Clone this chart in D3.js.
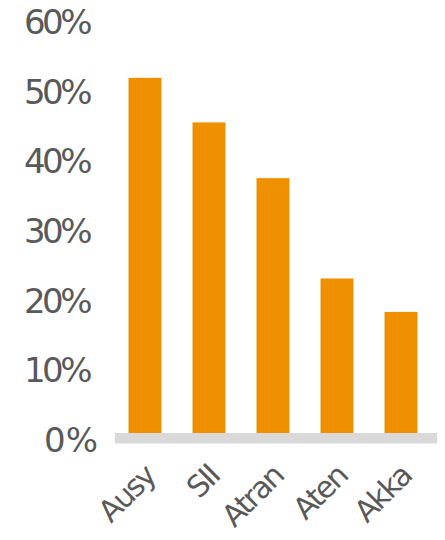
<!DOCTYPE html>
<html>
<head>
<meta charset="utf-8">
<script src="https://cdn.jsdelivr.net/npm/d3@7"></script>
<style>
  html, body { margin: 0; padding: 0; background: #fff; }
  svg { display: block; }
</style>
</head>
<body>
<svg id="chart" width="445" height="540"></svg>
<script>
const categories = ["Ausy", "SII", "Atran", "Aten", "Akka"];
const values = [51.7, 45.3, 37.3, 22.9, 18.1];
const yTicks = [0, 10, 20, 30, 40, 50, 60];
const tickLabels = ["0%", "10%", "20%", "30%", "40%", "50%", "60%"];

const svg = d3.select("#chart");
const font = "'DejaVu Sans', Verdana, sans-serif";
const textColor = "#595959";

const x = d3.scaleBand()
  .domain(categories)
  .range([113, 433])
  .paddingInner(0.485)
  .paddingOuter(0.2425);

const y = d3.scaleLinear()
  .domain([0, 60])
  .range([438, 20]);

// bars
svg.append("g").selectAll("rect")
  .data(categories)
  .join("rect")
  .attr("x", d => x(d))
  .attr("y", (d, i) => y(values[i]))
  .attr("width", x.bandwidth())
  .attr("height", (d, i) => y(0) - y(values[i]))
  .attr("fill", "#EE9000");

// baseline band
svg.append("rect")
  .attr("x", 115)
  .attr("y", y(0) - 5)
  .attr("width", 322)
  .attr("height", 10.5)
  .attr("fill", "#D9D9D9");

// y-axis labels
svg.append("g").selectAll("text")
  .data(yTicks)
  .join("text")
  .attr("x", d => d === 0 ? 98 : 89)
  .attr("y", d => y(d) + 2)
  .attr("text-anchor", "end")
  .attr("dominant-baseline", "central")
  .attr("font-family", font)
  .attr("font-size", 34)
  .attr("letter-spacing", d => d === 0 ? 0 : -3.5)
  .attr("fill", textColor)
  .text((d, i) => tickLabels[i]);

// x-axis labels
svg.append("g").selectAll("text")
  .data(categories)
  .join("text")
  .attr("transform", d => `translate(${x(d) + x.bandwidth() / 2 + 12},${478}) rotate(-45)`)
  .attr("text-anchor", "end")
  .attr("font-family", font)
  .attr("font-size", 30)
  .attr("letter-spacing", -2)
  .attr("fill", textColor)
  .text(d => d);
</script>
</body>
</html>
